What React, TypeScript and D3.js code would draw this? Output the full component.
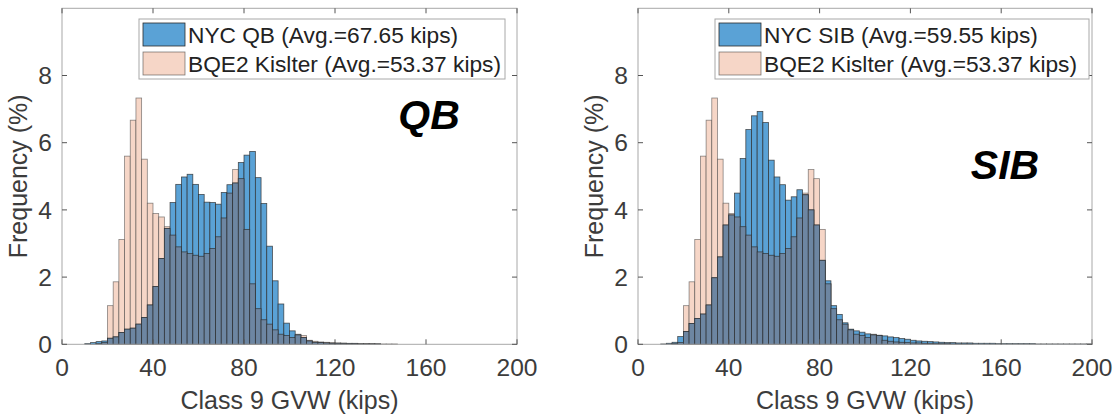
import React from 'react';
import * as d3 from 'd3';

// Histogram bins: width 2.5 kips, first listed bin starts at 10 kips
const binWidth = 2.5;
const firstBinStart = 10;

// BQE2 Kislter frequency (%) per bin (shared by both panels)
const bqe2Freq = [
  0, 0, 0.02, 0.05, 1.15, 1.86, 3.12, 5.6, 6.67, 7.33,
  5.51, 4.2, 3.89, 3.79, 3.5, 3.25, 2.9, 2.75, 2.7, 2.65,
  2.62, 2.7, 2.85, 3.2, 3.76, 4.5, 5.2, 4.93, 3.42, 1.8,
  1.06, 0.73, 0.6, 0.43, 0.3, 0.26, 0.2, 0.3, 0.26, 0.12,
  0.09, 0.07, 0.06, 0.05, 0.04, 0.04, 0.03, 0.03, 0.02, 0.02,
  0.02, 0.01, 0.01, 0.01, 0.01, 0, 0, 0, 0, 0,
  0, 0, 0, 0, 0, 0, 0, 0, 0, 0,
  0, 0, 0, 0, 0, 0,
];

// NYC QB frequency (%) per bin
const qbFreq = [
  0.02, 0.05, 0.08, 0.1, 0.18, 0.22, 0.35, 0.45, 0.48, 0.6,
  0.8, 1.17, 1.72, 2.55, 3.45, 4.22, 4.76, 4.98, 5.06, 4.76,
  4.46, 4.23, 4.22, 4.17, 4.52, 4.75, 4.8, 5.41, 5.63, 5.74,
  4.96, 4.19, 2.92, 1.89, 1.2, 0.63, 0.4, 0.28, 0.2, 0.1,
  0.06, 0.05, 0.04, 0.03, 0.03, 0.02, 0.02, 0.02, 0.01, 0.01,
  0.01, 0.01, 0, 0, 0, 0, 0, 0, 0, 0,
  0, 0, 0, 0, 0, 0, 0, 0, 0, 0,
  0, 0, 0, 0, 0, 0,
];

// NYC SIB frequency (%) per bin
const sibFreq = [
  0.01, 0.03, 0.06, 0.23, 0.38, 0.62, 0.77, 0.9, 1.17, 1.98,
  2.6, 3.55, 3.85, 4.5, 5.53, 6.39, 6.8, 6.93, 6.6, 5.48,
  4.98, 4.75, 4.29, 4.39, 4.6, 4.45, 4.0, 3.55, 2.5, 1.89,
  1.15, 0.89, 0.64, 0.45, 0.4, 0.36, 0.31, 0.28, 0.27, 0.25,
  0.22, 0.2, 0.17, 0.15, 0.12, 0.1, 0.09, 0.08, 0.07, 0.06,
  0.05, 0.05, 0.04, 0.04, 0.04, 0.03, 0.03, 0.03, 0.03, 0.02,
  0.02, 0.02, 0.02, 0.02, 0.02, 0.02, 0.01, 0.01, 0.01, 0.01,
  0.01, 0.01, 0.01, 0.01, 0.01, 0.01,
];

const xTicks = [0, 40, 80, 120, 160, 200];
const yTicks = [0, 2, 4, 6, 8];

const panels = [
  { left: 62, right: 517, name: 'NYC QB (Avg.=67.65 kips)', values: qbFreq, tag: 'QB', tagX: 429, tagY: 129, legX: 139, legR: 505 },
  { left: 638, right: 1092, name: 'NYC SIB (Avg.=59.55 kips)', values: sibFreq, tag: 'SIB', tagX: 1005, tagY: 179, legX: 715, legR: 1089 },
];

const bqeName = 'BQE2 Kislter (Avg.=53.37 kips)';
const top = 8.3;
const bottom = 344.3;

const PINK = '#f6d6c7';
const BLUE = '#5aa2d6';
const DARK = '#6d86a2';
const EDGE = '#2b2b2b';
const FONT = 'Liberation Sans, Arial, Helvetica, sans-serif';
const TXT = '#3c3c3c';

function Panel({ p }: { p: typeof panels[number] }) {
  const x = d3.scaleLinear().domain([0, 200]).range([p.left, p.right]);
  const y = d3.scaleLinear().domain([0, 10]).range([bottom, top]);
  const bins = bqe2Freq.map((v, i) => ({
    x0: firstBinStart + i * binWidth,
    x1: firstBinStart + (i + 1) * binWidth,
    pink: v,
    blue: p.values[i],
  }));
  const tickLen = 5;
  return (
    <g>
      {bins.filter(b => b.pink > 0).map((b, i) => (
        <rect key={'p' + i} x={x(b.x0)} y={y(b.pink)} width={x(b.x1) - x(b.x0)} height={y(0) - y(b.pink)}
          fill={PINK} stroke={EDGE} strokeOpacity={0.55} strokeWidth={0.8} />
      ))}
      {bins.filter(b => b.blue > 0).map((b, i) => (
        <rect key={'b' + i} x={x(b.x0)} y={y(b.blue)} width={x(b.x1) - x(b.x0)} height={y(0) - y(b.blue)}
          fill={BLUE} stroke={EDGE} strokeOpacity={0.8} strokeWidth={0.8} />
      ))}
      {bins.filter(b => Math.min(b.pink, b.blue) > 0).map((b, i) => {
        const m = Math.min(b.pink, b.blue);
        return (
          <rect key={'d' + i} x={x(b.x0)} y={y(m)} width={x(b.x1) - x(b.x0)} height={y(0) - y(m)}
            fill={DARK} stroke={EDGE} strokeOpacity={0.8} strokeWidth={0.8} />
        );
      })}
      {/* axes box */}
      <rect x={p.left} y={top} width={p.right - p.left} height={bottom - top} fill="none" stroke="#a8a8a8" strokeWidth={1} />
      {xTicks.map(t => (
        <g key={'xt' + t}>
          <line x1={x(t)} x2={x(t)} y1={bottom} y2={bottom - tickLen} stroke="#555" />
          <line x1={x(t)} x2={x(t)} y1={top} y2={top + tickLen} stroke="#555" />
          <text x={x(t)} y={376} fontSize={24.6} fontFamily={FONT} fill={TXT} textAnchor="middle">{t}</text>
        </g>
      ))}
      {yTicks.map(t => (
        <g key={'yt' + t}>
          <line x1={p.left} x2={p.left + tickLen} y1={y(t)} y2={y(t)} stroke="#555" />
          <line x1={p.right} x2={p.right - tickLen} y1={y(t)} y2={y(t)} stroke="#555" />
          <text x={p.left - 10} y={y(t) + 8.7} fontSize={24.6} fontFamily={FONT} fill={TXT} textAnchor="end">{t}</text>
        </g>
      ))}
      <text x={(p.left + p.right) / 2} y={409} fontSize={25} fontFamily={FONT} fill={TXT} textAnchor="middle">Class 9 GVW (kips)</text>
      <text transform={`translate(${p.left - 35},${(top + bottom) / 2}) rotate(-90)`} fontSize={25} fontFamily={FONT} fill={TXT} textAnchor="middle">Frequency (%)</text>
      {/* legend */}
      <rect x={p.legX} y={19} width={p.legR - p.legX} height={60} fill="#fff" stroke="#a8a8a8" strokeWidth={1} />
      <rect x={p.legX + 4} y={23} width={42} height={23} fill={BLUE} stroke={EDGE} strokeWidth={0.8} />
      <rect x={p.legX + 4} y={52} width={42} height={23} fill={PINK} stroke={EDGE} strokeOpacity={0.6} strokeWidth={0.8} />
      <text x={p.legX + 49} y={43} fontSize={22.7} fontFamily={FONT} fill="#222">{p.name}</text>
      <text x={p.legX + 49} y={72} fontSize={22.7} fontFamily={FONT} fill="#222">{bqeName}</text>
      <text x={p.tagX} y={p.tagY} fontSize={41} fontWeight="bold" fontStyle="italic" fontFamily={FONT} fill="#000" textAnchor="middle">{p.tag}</text>
    </g>
  );
}

export default function App() {
  return (
    <svg width={1117} height={417} style={{ position: 'absolute', left: 0, top: 0, background: '#fff' }}>
      <rect width={1117} height={417} fill="#fff" />
      {panels.map(p => <Panel key={p.tag} p={p} />)}
    </svg>
  );
}
